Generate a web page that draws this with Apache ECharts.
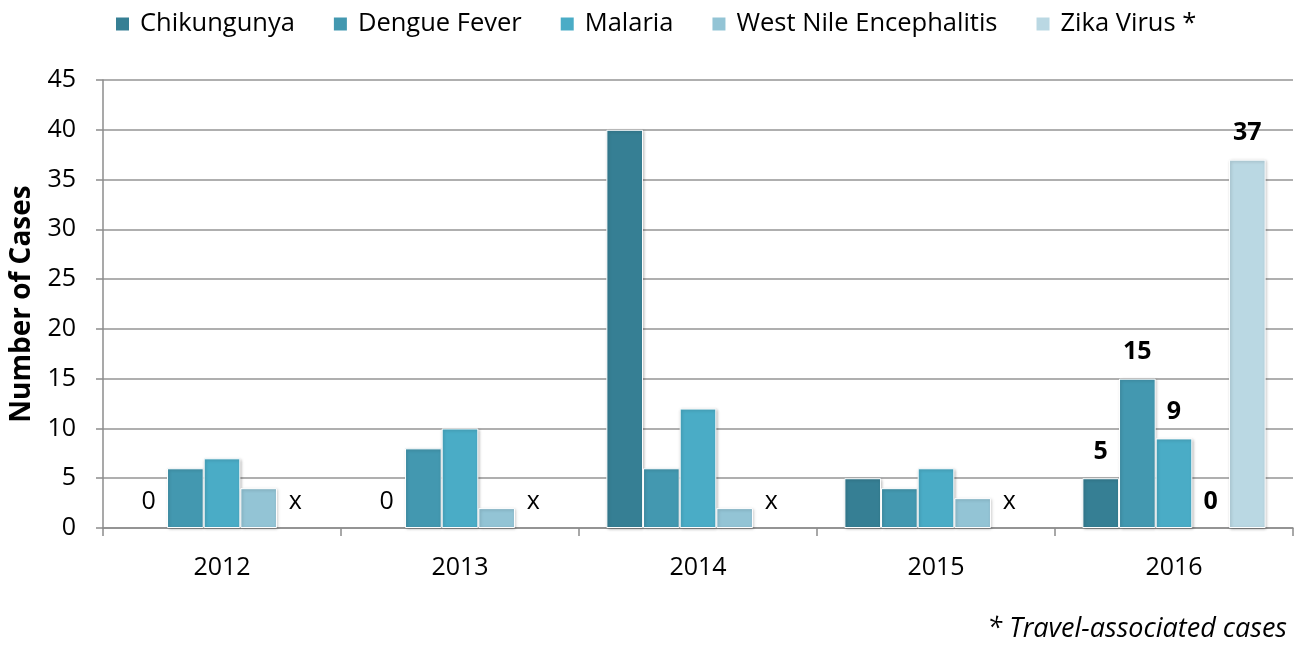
<!DOCTYPE html>
<html>
<head>
<meta charset="utf-8">
<script src="https://cdn.jsdelivr.net/npm/echarts@6/dist/echarts.min.js"></script>
<style>
  html, body { margin: 0; padding: 0; background: #fff; }
  #chart { width: 1294px; height: 645px; }
</style>
</head>
<body>
<div id="chart"></div>
<script>
// data; null = not reported ("x")
const years = ['2012', '2013', '2014', '2015', '2016'];
const chikungunya = [0, 0, 40, 5, 5];
const dengue = [6, 8, 6, 4, 15];
const malaria = [7, 10, 12, 6, 9];
const westNile = [4, 2, 2, 3, 0];
const zika = [null, null, null, null, 37];
const yTicks = { min: 0, max: 45, interval: 5 };

const seriesNames = ['Chikungunya', 'Dengue Fever', 'Malaria', 'West Nile Encephalitis', 'Zika Virus *'];
const colorList = ['#367f94', '#4398b0', '#4aacc6', '#93c4d5', '#bad8e3'];
const FONT = '"Open Sans", sans-serif';

const chart = echarts.init(document.getElementById('chart'));

function buildData(values) {
  return values.map(function (v, i) {
    const lastYear = i === values.length - 1;
    const empty = v === 0 || v === null;
    const item = {
      value: v === null ? 0 : v,
      label: {
        show: lastYear || empty,
        formatter: v === null ? 'x' : String(v),
        fontWeight: lastYear ? 'bold' : 'normal'
      }
    };
    if (empty) {
      // no border / shadow for a zero-height bar
      item.itemStyle = { color: 'transparent', borderWidth: 0, shadowColor: 'transparent', shadowBlur: 0 };
    }
    return item;
  });
}

const allValues = [chikungunya, dengue, malaria, westNile, zika];
const series = allValues.map(function (vals, k) {
  return {
    name: seriesNames[k],
    type: 'bar',
    barGap: 0,
    barCategoryGap: '23%',
    itemStyle: {
      color: colorList[k],
      borderColor: '#fff',
      borderWidth: 1,
      shadowColor: 'rgba(0,0,0,0.25)',
      shadowBlur: 3,
      shadowOffsetX: 1,
      shadowOffsetY: 1
    },
    label: {
      position: 'top',
      distance: 14,
      color: '#000',
      fontSize: 25,
      fontFamily: FONT
    },
    emphasis: { disabled: true },
    data: buildData(vals)
  };
});

const option = {
  animation: false,
  color: colorList,
  legend: {
    top: 6,
    left: 109,
    itemWidth: 15,
    itemHeight: 15,
    itemGap: 37,
    icon: 'rect',
    textStyle: { fontSize: 25.5, color: '#000', fontFamily: FONT, padding: [0, 0, 0, 5] },
    data: seriesNames
  },
  grid: { left: 103, right: 1, top: 80, bottom: 117, containLabel: false, outerBoundsMode: 'none' },
  xAxis: {
    type: 'category',
    data: years,
    axisLine: { lineStyle: { color: '#8c8c8c', width: 1.5 } },
    axisTick: { show: true, length: 8, lineStyle: { color: '#8c8c8c', width: 1.5 } },
    axisLabel: { color: '#000', fontSize: 25, fontFamily: FONT, margin: 27 }
  },
  yAxis: {
    type: 'value',
    min: yTicks.min,
    max: yTicks.max,
    interval: yTicks.interval,
    name: 'Number of Cases',
    nameLocation: 'middle',
    nameGap: 66,
    nameTextStyle: { color: '#000', fontSize: 28, fontWeight: 'bold', fontFamily: FONT },
    axisLine: { show: true, lineStyle: { color: '#8c8c8c', width: 1.5 } },
    axisTick: { show: true, length: 7, lineStyle: { color: '#8c8c8c', width: 1.5 } },
    axisLabel: { color: '#000', fontSize: 25, fontFamily: FONT, margin: 27 },
    splitLine: { lineStyle: { color: '#959595', width: 1.5 } }
  },
  graphic: [{
    type: 'text',
    right: 7,
    bottom: 2,
    style: {
      text: '* Travel-associated cases',
      fill: '#000',
      fontSize: 27,
      fontStyle: 'italic',
      fontFamily: FONT
    }
  }],
  series: series
};

chart.setOption(option);
</script>
</body>
</html>
